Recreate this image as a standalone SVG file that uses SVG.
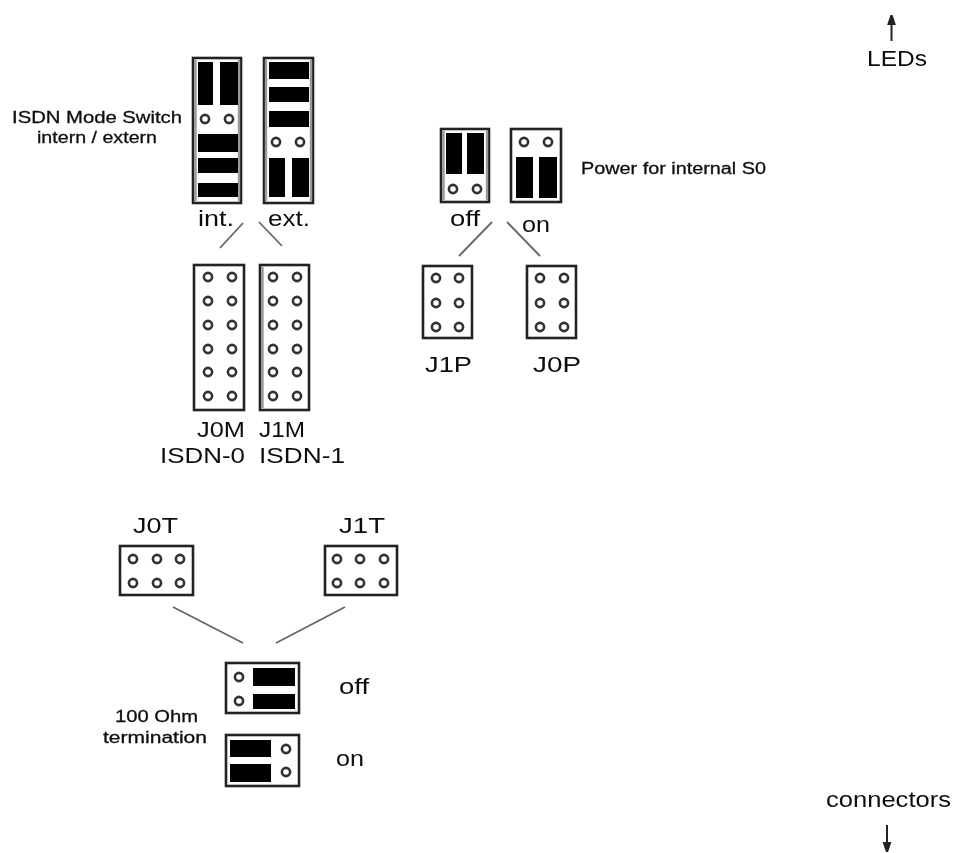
<svg xmlns="http://www.w3.org/2000/svg" width="964" height="853" viewBox="0 0 964 853">
<defs>
<style>
text{font-family:"Liberation Sans",Arial,sans-serif;fill:#111}
.l{font-size:22px}
.s{font-size:16px;stroke:#111;stroke-width:.3}
.b{fill:#fff;stroke:#222;stroke-width:2.6}
.g{fill:none;stroke:#999;stroke-width:2.4}
.p{fill:#000}
.c{stroke:#666;stroke-width:1.8;fill:none}
.a{stroke:#222;stroke-width:2;fill:#222}
</style>
<circle id="h" r="4.1" fill="#fff" stroke="#333" stroke-width="2.6"/>
<filter id="soft" x="0" y="0" width="100%" height="100%"><feGaussianBlur stdDeviation="0.55"/></filter>
</defs>
<rect width="964" height="853" fill="#fff"/>
<g filter="url(#soft)">
<g id="connectors">
<line class="c" x1="243" y1="223" x2="220" y2="248"/>
<line class="c" x1="259" y1="222" x2="282" y2="246"/>
<line class="c" x1="492" y1="222" x2="459" y2="256"/>
<line class="c" x1="507" y1="222" x2="540" y2="256"/>
<line class="c" x1="173" y1="607" x2="243" y2="643"/>
<line class="c" x1="345" y1="607" x2="276" y2="643"/>
<path class="a" d="M891.5 41V24"/><path class="a" stroke-width="1" d="M891.5 15L888.5 24H894.5Z"/>
<path class="a" d="M887 825V843"/><path class="a" stroke-width="1" d="M887 852L884 843H890Z"/>
</g>
<g id="int">
<rect class="b" x="193" y="58" width="48" height="145"/>
<line class="g" x1="195.5" y1="60" x2="195.5" y2="201"/><line class="g" x1="239" y1="60" x2="239" y2="201"/>
<rect class="p" x="198" y="62" width="15" height="43"/><rect class="p" x="220" y="62" width="18" height="43"/>
<rect class="p" x="198" y="134" width="40" height="18"/><rect class="p" x="198" y="158" width="40" height="15"/><rect class="p" x="198" y="183" width="40" height="14"/>
<use href="#h" x="205" y="119"/><use href="#h" x="229" y="119"/>
</g>
<g id="ext">
<rect class="b" x="264" y="58" width="49" height="145"/>
<line class="g" x1="266" y1="60" x2="266" y2="201"/><line class="g" x1="311" y1="60" x2="311" y2="201"/>
<rect class="p" x="269" y="62" width="40" height="17"/><rect class="p" x="269" y="87" width="40" height="15"/><rect class="p" x="269" y="111" width="40" height="16"/>
<rect class="p" x="269" y="158" width="16" height="39"/><rect class="p" x="292" y="158" width="17" height="39"/>
<use href="#h" x="276" y="142"/><use href="#h" x="300" y="142"/>
</g>
<g id="J0M">
<rect class="b" x="194" y="265" width="50" height="145"/>
<use href="#h" x="208" y="277"/><use href="#h" x="232" y="277"/><use href="#h" x="208" y="301"/><use href="#h" x="232" y="301"/><use href="#h" x="208" y="325"/><use href="#h" x="232" y="325"/><use href="#h" x="208" y="349"/><use href="#h" x="232" y="349"/><use href="#h" x="208" y="372"/><use href="#h" x="232" y="372"/><use href="#h" x="208" y="396"/><use href="#h" x="232" y="396"/>
</g>
<g id="J1M">
<rect class="b" x="260" y="265" width="49" height="145"/>
<line class="g" x1="262.5" y1="267" x2="262.5" y2="408"/>
<use href="#h" x="273" y="277"/><use href="#h" x="297" y="277"/><use href="#h" x="273" y="301"/><use href="#h" x="297" y="301"/><use href="#h" x="273" y="325"/><use href="#h" x="297" y="325"/><use href="#h" x="273" y="349"/><use href="#h" x="297" y="349"/><use href="#h" x="273" y="372"/><use href="#h" x="297" y="372"/><use href="#h" x="273" y="396"/><use href="#h" x="297" y="396"/>
</g>
<g id="off-power">
<rect class="b" x="441" y="129" width="48" height="73"/>
<line class="g" x1="443.5" y1="131" x2="443.5" y2="200"/><line class="g" x1="487" y1="131" x2="487" y2="200"/>
<rect class="p" x="446" y="133" width="16" height="41"/><rect class="p" x="467" y="133" width="17" height="41"/>
<use href="#h" x="453" y="189"/><use href="#h" x="477" y="189"/>
</g>
<g id="on-power">
<rect class="b" x="511" y="129" width="50" height="73"/>
<rect class="p" x="516" y="157" width="17" height="41"/><rect class="p" x="539" y="157" width="18" height="41"/>
<use href="#h" x="524" y="142"/><use href="#h" x="548" y="142"/>
</g>
<g id="J1P">
<rect class="b" x="423" y="266" width="49" height="72"/>
<use href="#h" x="436" y="278"/><use href="#h" x="459" y="278"/><use href="#h" x="436" y="303"/><use href="#h" x="459" y="303"/><use href="#h" x="436" y="327"/><use href="#h" x="459" y="327"/>
</g>
<g id="J0P">
<rect class="b" x="527" y="266" width="49" height="72"/>
<use href="#h" x="540" y="278"/><use href="#h" x="564" y="278"/><use href="#h" x="540" y="303"/><use href="#h" x="564" y="303"/><use href="#h" x="540" y="327"/><use href="#h" x="564" y="327"/>
</g>
<g id="J0T">
<rect class="b" x="120" y="546" width="73" height="49"/>
<use href="#h" x="133" y="559"/><use href="#h" x="157" y="559"/><use href="#h" x="180" y="559"/><use href="#h" x="133" y="583"/><use href="#h" x="157" y="583"/><use href="#h" x="180" y="583"/>
</g>
<g id="J1T">
<rect class="b" x="325" y="546" width="72" height="49"/>
<use href="#h" x="337" y="559"/><use href="#h" x="360" y="559"/><use href="#h" x="384" y="559"/><use href="#h" x="337" y="583"/><use href="#h" x="360" y="583"/><use href="#h" x="384" y="583"/>
</g>
<g id="term-off">
<rect class="b" x="226" y="663" width="73" height="50"/>
<rect class="p" x="253" y="668" width="42" height="18"/><rect class="p" x="253" y="694" width="42" height="15"/>
<use href="#h" x="239" y="677"/><use href="#h" x="239" y="701"/>
</g>
<g id="term-on">
<rect class="b" x="226" y="735" width="73" height="51"/>
<rect class="p" x="230" y="740" width="41" height="17"/><rect class="p" x="230" y="764" width="41" height="18"/>
<use href="#h" x="286" y="749"/><use href="#h" x="286" y="772"/>
</g>
<g id="labels">
<text class="s" x="12" y="123" textLength="170" lengthAdjust="spacingAndGlyphs">ISDN Mode Switch</text>
<text class="s" x="37" y="143" textLength="120" lengthAdjust="spacingAndGlyphs">intern / extern</text>
<text class="l" x="198" y="226" textLength="36" lengthAdjust="spacingAndGlyphs">int.</text>
<text class="l" x="268" y="226" textLength="42" lengthAdjust="spacingAndGlyphs">ext.</text>
<text class="s" x="581" y="174" textLength="185" lengthAdjust="spacingAndGlyphs">Power for internal S0</text>
<text class="l" x="450" y="226" textLength="30" lengthAdjust="spacingAndGlyphs">off</text>
<text class="l" x="522" y="232" textLength="28" lengthAdjust="spacingAndGlyphs">on</text>
<text class="l" x="425" y="372" textLength="47" lengthAdjust="spacingAndGlyphs">J1P</text>
<text class="l" x="533" y="372" textLength="48" lengthAdjust="spacingAndGlyphs">J0P</text>
<text class="l" x="197" y="437" textLength="48" lengthAdjust="spacingAndGlyphs">J0M</text>
<text class="l" x="259" y="437" textLength="46" lengthAdjust="spacingAndGlyphs">J1M</text>
<text class="l" x="160" y="463" textLength="85" lengthAdjust="spacingAndGlyphs">ISDN-0</text>
<text class="l" x="259" y="463" textLength="86" lengthAdjust="spacingAndGlyphs">ISDN-1</text>
<text class="l" x="133" y="533" textLength="45" lengthAdjust="spacingAndGlyphs">J0T</text>
<text class="l" x="339" y="533" textLength="46" lengthAdjust="spacingAndGlyphs">J1T</text>
<text class="l" x="339" y="694" textLength="30" lengthAdjust="spacingAndGlyphs">off</text>
<text class="l" x="336" y="766" textLength="28" lengthAdjust="spacingAndGlyphs">on</text>
<text class="s" x="115" y="722" textLength="83" lengthAdjust="spacingAndGlyphs">100 Ohm</text>
<text class="s" x="103" y="743" textLength="104" lengthAdjust="spacingAndGlyphs">termination</text>
<text class="l" x="867" y="66" textLength="60" lengthAdjust="spacingAndGlyphs">LEDs</text>
<text class="l" x="826" y="807" textLength="125" lengthAdjust="spacingAndGlyphs">connectors</text>
</g>
</g>
</svg>
